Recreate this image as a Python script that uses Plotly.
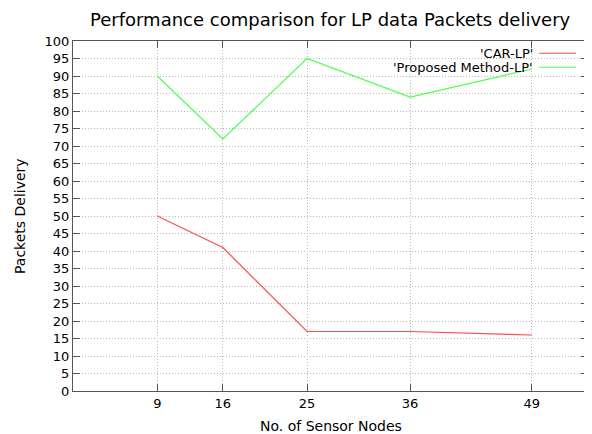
import plotly.graph_objects as go

nodes = [9, 16, 25, 36, 49]
car_lp = [50, 41, 17, 17, 16]
proposed_lp = [90, 72, 95, 84, 92]
series_names = ["'CAR-LP'", "'Proposed Method-LP'"]
series_colors = ["#ff4d4d", "#4dff4d"]
y_ticks = list(range(0, 101, 5))

fig = go.Figure()
for name, vals, col in zip(series_names, [car_lp, proposed_lp], series_colors):
    fig.add_trace(go.Scatter(x=nodes, y=vals, mode="lines", name=name,
                             line=dict(color=col, width=1.2), showlegend=False))

font = "DejaVu Sans, sans-serif"
# gnuplot-style legend: text right-aligned, line sample to the right
for i, (name, col) in enumerate(zip(series_names, series_colors)):
    ypos = 0.965 - i * 0.04
    fig.add_annotation(x=0.898, y=ypos, xref="paper", yref="paper", text=name,
                       showarrow=False, xanchor="right", yanchor="middle",
                       font=dict(family=font, size=13, color="#000"))
    fig.add_shape(type="line", xref="paper", yref="paper", x0=0.905, x1=0.977,
                  y0=ypos, y1=ypos, line=dict(color=col, width=1.2))

fig.add_annotation(x=0.5, y=1.0, xref="paper", yref="paper", yshift=22,
                   text="Performance comparison for LP data Packets delivery",
                   showarrow=False, xanchor="center", yanchor="middle",
                   font=dict(family=font, size=18, color="#000"))
fig.add_annotation(x=0.5, y=0.0, xref="paper", yref="paper", yshift=-35,
                   text="No. of Sensor Nodes", showarrow=False,
                   xanchor="center", yanchor="middle",
                   font=dict(family=font, size=14, color="#000"))
fig.add_annotation(x=0.0, y=0.5, xref="paper", yref="paper", xshift=-53,
                   text="Packets Delivery", showarrow=False, textangle=-90,
                   xanchor="center", yanchor="middle",
                   font=dict(family=font, size=14, color="#000"))

axis_common = dict(showline=True, linecolor="#555", linewidth=1, mirror="allticks",
                   ticks="inside", ticklen=7, tickcolor="#555", automargin=False,
                   showgrid=True, gridcolor="#bbb", griddash="1px,2px", gridwidth=1,
                   zeroline=False, tickfont=dict(family=font, size=13, color="#000"))

# page body adds an 8px offset, so the figure is 8px smaller and margins shifted
fig.update_layout(
    width=584, height=426,
    margin=dict(l=65, r=4, t=33, b=43),
    paper_bgcolor="white", plot_bgcolor="white",
    xaxis=dict(range=[0, 55], tickvals=nodes, ticktext=[str(n) for n in nodes],
               **axis_common),
    yaxis=dict(range=[0, 100], tickvals=y_ticks, **axis_common),
)
fig.write_html("out.html")
